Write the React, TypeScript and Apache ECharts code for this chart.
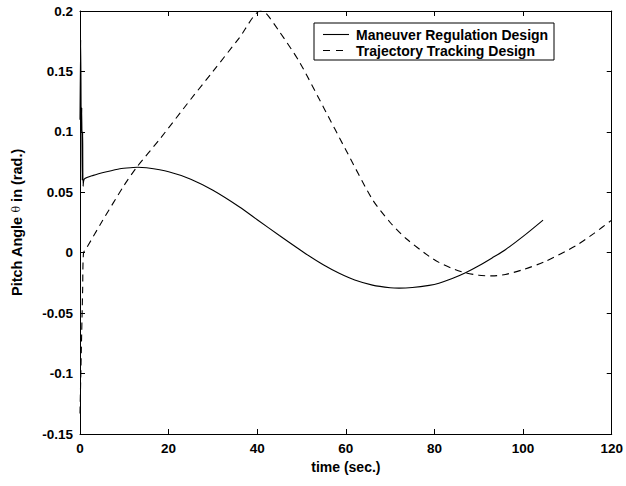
import React, { useEffect, useRef } from "react";
import * as echarts from "echarts";

const maneuverT = [0, 0.15, 0.3, 0.4, 0.5, 0.6, 0.7, 1, 3, 6, 9, 12, 13, 15, 20, 25, 30, 36, 40, 45, 50.6, 55, 58.5, 62, 66, 70, 72, 75, 78.8, 81, 84, 87, 90, 93, 96, 100, 104.5];
const maneuverV = [0.11, 0.176, 0.1, 0.12, 0.06, 0.1, 0.055, 0.061, 0.064, 0.067, 0.0695, 0.0705, 0.0707, 0.0703, 0.067, 0.0608, 0.0516, 0.0378, 0.0273, 0.0142, 0, -0.0102, -0.017, -0.0226, -0.0268, -0.029, -0.0293, -0.0288, -0.027, -0.0252, -0.0214, -0.0166, -0.0108, -0.0043, 0.0025, 0.0135, 0.027];

const trackingT = [0, 0.3, 0.6, 0.8, 1.5, 5, 10, 12.8, 18, 25, 30, 36, 40.7, 42, 45, 49.5, 55, 60, 66, 70, 73.5, 78.8, 81, 84, 87, 90, 93, 96, 100, 105, 112, 116, 120];
const trackingV = [-0.133, -0.08, -0.03, 0.0, 0.004, 0.026, 0.056, 0.0707, 0.094, 0.127, 0.15, 0.178, 0.2, 0.198, 0.183, 0.158, 0.12, 0.085, 0.044, 0.025, 0.012, -0.003, -0.008, -0.013, -0.0166, -0.0186, -0.0192, -0.018, -0.014, -0.0072, 0.006, 0.016, 0.027];

const seriesNames = ["Maneuver Regulation Design", "Trajectory Tracking Design"];
const xTicks = { min: 0, max: 120, interval: 20 };
const yTicks = { min: -0.15, max: 0.2, interval: 0.05 };
const xLabel = "time (sec.)";
const yLabelParts = ["Pitch Angle ", "θ", " in (rad.)"];

const FONT = "Liberation Sans, Arial, Helvetica, sans-serif";

export default function App() {
  const ref = useRef<HTMLDivElement>(null);
  useEffect(() => {
    if (!ref.current) return;
    const chart = echarts.init(ref.current, null, { renderer: "svg" });
    const axisCommon = {
      axisLine: { show: true, onZero: false, lineStyle: { color: "#000", width: 1 } },
      axisTick: { show: true, inside: true, length: 5, lineStyle: { color: "#000", width: 1 } },
      splitLine: { show: false },
    };
    const fmtY = (v: number) => parseFloat(v.toFixed(2)).toString();
    const lx = 314, ly = 23, lw = 240, lh = 37;
    chart.setOption({
      animation: false,
      backgroundColor: "#fff",
      grid: { left: 80, right: 13, top: 11, bottom: 52, containLabel: false },
      xAxis: [
        {
          type: "value",
          ...xTicks,
          position: "bottom",
          ...axisCommon,
          axisLabel: { show: true, fontFamily: FONT, fontWeight: "bold", fontSize: 13.5, color: "#000", margin: 7 },
          name: xLabel,
          nameLocation: "middle",
          nameGap: 25,
          nameTextStyle: { fontFamily: FONT, fontWeight: "bold", fontSize: 14, color: "#000" },
        },
        {
          type: "value",
          ...xTicks,
          position: "top",
          ...axisCommon,
          axisLabel: { show: false },
        },
      ],
      yAxis: [
        {
          type: "value",
          ...yTicks,
          position: "left",
          ...axisCommon,
          axisLabel: { show: true, formatter: fmtY, fontFamily: FONT, fontWeight: "bold", fontSize: 13.5, color: "#000", margin: 7 },
          name: "{a|" + yLabelParts[0] + "}{t|" + yLabelParts[1] + "}{a|" + yLabelParts[2] + "}",
          nameLocation: "middle",
          nameGap: 56,
          nameTextStyle: {
            rich: {
              a: { fontFamily: FONT, fontWeight: "bold", fontSize: 14.5, color: "#000" },
              t: { fontFamily: "DejaVu Serif, serif", fontWeight: "normal", fontSize: 11, color: "#000" },
            },
          },
        },
        {
          type: "value",
          ...yTicks,
          position: "right",
          ...axisCommon,
          axisLabel: { show: false },
        },
      ],
      graphic: [
        {
          type: "rect",
          shape: { x: lx, y: ly, width: lw, height: lh },
          style: { fill: "#fff", stroke: "#000", lineWidth: 1 },
          z: 100,
        },
        {
          type: "line",
          shape: { x1: lx + 9, y1: ly + 11.5, x2: lx + 35, y2: ly + 11.5 },
          style: { stroke: "#000", lineWidth: 1.1 },
          z: 101,
        },
        {
          type: "line",
          shape: { x1: lx + 9, y1: ly + 27.5, x2: lx + 35, y2: ly + 27.5 },
          style: { stroke: "#000", lineWidth: 1.1, lineDash: [7, 6] },
          z: 101,
        },
        {
          type: "text",
          x: lx + 42,
          y: ly + 11.5,
          style: { text: seriesNames[0], fontFamily: FONT, fontWeight: "bold", fontSize: 14, fill: "#000", verticalAlign: "middle", align: "left" },
          z: 101,
        },
        {
          type: "text",
          x: lx + 42,
          y: ly + 27.5,
          style: { text: seriesNames[1], fontFamily: FONT, fontWeight: "bold", fontSize: 14, fill: "#000", verticalAlign: "middle", align: "left" },
          z: 101,
        },
      ],
      series: [
        {
          name: seriesNames[0],
          type: "line",
          xAxisIndex: 0,
          yAxisIndex: 0,
          symbol: "none",
          smooth: 0.25,
          data: maneuverT.map((t, i) => [t, maneuverV[i]]),
          lineStyle: { color: "#000", width: 1.1, type: "solid" },
          itemStyle: { color: "#000" },
        },
        {
          name: seriesNames[1],
          type: "line",
          xAxisIndex: 0,
          yAxisIndex: 0,
          symbol: "none",
          smooth: 0.25,
          data: trackingT.map((t, i) => [t, trackingV[i]]),
          lineStyle: { color: "#000", width: 1.1, type: [7, 5] },
          itemStyle: { color: "#000" },
        },
      ],
    });
    return () => chart.dispose();
  }, []);
  return <div ref={ref} style={{ width: 626, height: 486, position: "absolute", left: 0, top: 0 }} />;
}
